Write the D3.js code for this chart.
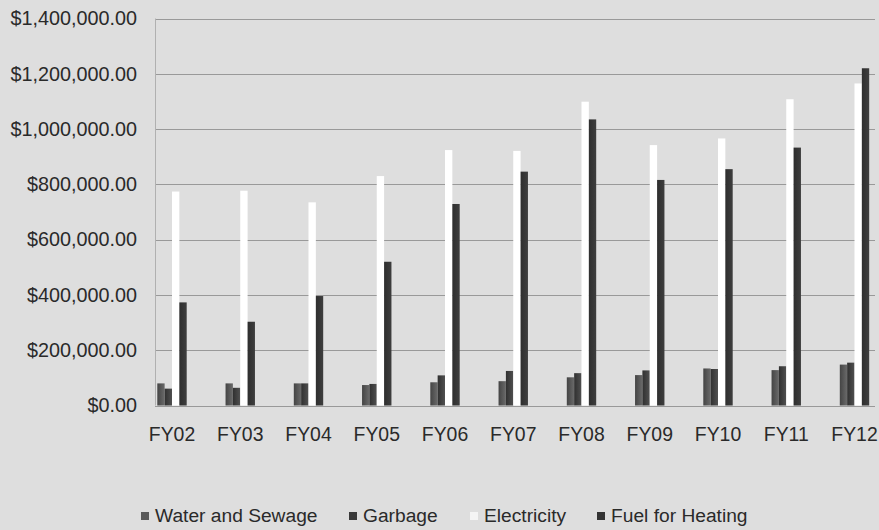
<!DOCTYPE html>
<html>
<head>
<meta charset="utf-8">
<script src="https://cdn.jsdelivr.net/npm/d3@7"></script>
<style>
  html, body { margin: 0; padding: 0; background: #dedede; }
  svg { display: block; }
  text { font-family: "Liberation Sans", Arial, sans-serif; fill: #2a2a2a; }
</style>
</head>
<body>
<svg id="chart" width="879" height="530"></svg>
<script>
const categories = ["FY02","FY03","FY04","FY05","FY06","FY07","FY08","FY09","FY10","FY11","FY12"];
const seriesNames = ["Water and Sewage","Garbage","Electricity","Fuel for Heating"];
const waterSewage = [80000, 80000, 80000, 74000, 84000, 88000, 102000, 110000, 134000, 128000, 148000];
const garbage     = [61000, 64000, 80000, 78000, 109000, 125000, 117000, 127000, 132000, 142000, 155000];
const electricity = [774000, 777000, 735000, 830000, 924000, 921000, 1099000, 942000, 966000, 1108000, 1165000];
const fuelHeating = [373000, 303000, 396000, 520000, 729000, 846000, 1035000, 816000, 855000, 933000, 1220000];
const yTicks = [0, 200000, 400000, 600000, 800000, 1000000, 1200000, 1400000];

const seriesValues = [waterSewage, garbage, electricity, fuelHeating];
const seriesFill = ["url(#gWater)", "url(#gGarbage)", "#ffffff", "url(#gFuel)"];
const legendFill = ["#5a5a5a", "#3a3a3a", "#f4f4f4", "#333333"];

const svg = d3.select("#chart");
const W = 879, H = 530;

const defs = svg.append("defs");
function grad(id, c1, c2) {
  const g = defs.append("linearGradient").attr("id", id).attr("x1", "0").attr("x2", "1").attr("y1", "0").attr("y2", "0");
  g.append("stop").attr("offset", "0%").attr("stop-color", c1);
  g.append("stop").attr("offset", "100%").attr("stop-color", c2);
}
grad("gWater", "#444444", "#6a6a6a");
grad("gGarbage", "#303030", "#505050");
grad("gFuel", "#2e2e2e", "#3e3e3e");

svg.append("rect").attr("width", W).attr("height", H).attr("fill", "#dedede");

const plotLeft = 155, plotRight = 875;
const step = 68.25;
const firstCenter = 172;

const x0 = d3.scaleBand().domain(categories)
  .range([firstCenter - step / 2, firstCenter - step / 2 + step * categories.length])
  .padding(0);
const x1 = d3.scaleBand().domain(seriesNames).range([-14.7, 14.7]).padding(0);
const y = d3.scaleLinear().domain([0, 1400000]).range([405.5, 18.5]);

// gridlines
svg.append("g").selectAll("line").data(yTicks).join("line")
  .attr("x1", plotLeft).attr("x2", plotRight)
  .attr("y1", d => Math.round(y(d)) + 0.5).attr("y2", d => Math.round(y(d)) + 0.5)
  .attr("stroke", "#999999").attr("stroke-width", 1);

// left axis line
svg.append("line").attr("x1", plotLeft + 0.5).attr("x2", plotLeft + 0.5)
  .attr("y1", y(1400000)).attr("y2", y(0))
  .attr("stroke", "#b0b0b0");

// y axis
const fmt = d3.format(",.2f");
const yAxis = d3.axisLeft(y).tickValues(yTicks).tickSize(0).tickPadding(0)
  .tickFormat(d => "$" + fmt(d));
const gy = svg.append("g").attr("transform", "translate(137,0)").call(yAxis);
gy.select(".domain").remove();
gy.selectAll("text").style("font-size", "19.8px").style("font-family", "Liberation Sans, Arial, sans-serif").attr("fill", "#2a2a2a");

// x axis labels
const xAxis = d3.axisBottom(x0).tickSize(0).tickPadding(0);
const gx = svg.append("g").attr("transform", "translate(0,427)").call(xAxis);
gx.select(".domain").remove();
gx.selectAll("text").style("font-size", "19.4px").style("font-family", "Liberation Sans, Arial, sans-serif").attr("fill", "#2a2a2a");

// bars
const groups = svg.append("g").selectAll("g").data(categories).join("g")
  .attr("transform", c => `translate(${x0(c) + x0.bandwidth() / 2},0)`);
groups.selectAll("rect").data((c, i) => seriesNames.map((s, k) => ({ s, k, v: seriesValues[k][i] })))
  .join("rect")
  .attr("x", d => x1(d.s))
  .attr("width", x1.bandwidth())
  .attr("y", d => y(d.v))
  .attr("height", d => y(0) - y(d.v))
  .attr("fill", d => seriesFill[d.k]);

// legend
const legendX = [141, 349, 470, 597];
const lg = svg.append("g").selectAll("g").data(seriesNames).join("g")
  .attr("transform", (d, i) => `translate(${legendX[i]},0)`);
lg.append("rect").attr("x", 0).attr("y", 512).attr("width", 8).attr("height", 8)
  .attr("fill", (d, i) => legendFill[i]);
lg.append("text").attr("x", 14).attr("y", 522).text(d => d)
  .style("font-size", "19.2px").attr("fill", "#2a2a2a");
</script>
</body>
</html>
